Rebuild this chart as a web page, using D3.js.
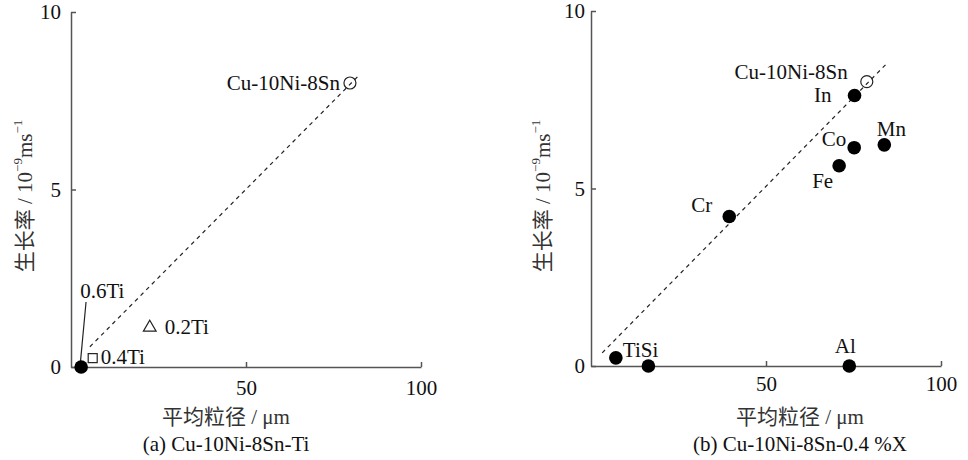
<!DOCTYPE html>
<html><head><meta charset="utf-8">
<script src="https://cdn.jsdelivr.net/npm/d3@7"></script>
<style>
body{margin:0;background:#fff;}
svg text{font-family:"Liberation Serif","DejaVu Serif",serif;}
svg text.cjk{font-family:"Liberation Serif","Noto Sans CJK SC",serif;}
</style></head>
<body><svg id="chart" width="968" height="460"></svg>
<script>
// ---------- data ----------
const xTicks = [50, 100];
const yTicks = [0, 5, 10];
const xTitle = "平均粒径 / μm";
const yTitleMain = "生长率 / 10";

// Panel (a): Cu-10Ni-8Sn-Ti
const aNames  = ["Cu-10Ni-8Sn", "0.2Ti", "0.4Ti", "0.6Ti"];
const aShapes = ["openCircle", "triangle", "square", "filled"];
const aX      = [79.7, 22.5, 6.2, 2.9];
const aY      = [8.0, 1.14, 0.25, 0.0];
const aFitX   = [5.4, 82.1];
const aFitY   = [0.57, 8.2];
const aLeaderX = [4.3, 2.7];
const aLeaderY = [1.83, 0.14];

// Panel (b): Cu-10Ni-8Sn-0.4%X
const bNames  = ["Cu-10Ni-8Sn", "In", "Mn", "Co", "Fe", "Cr", "TiSi", "", "Al"];
const bShapes = ["openCircle", "filled", "filled", "filled", "filled", "filled", "filled", "filled", "filled"];
const bX      = [78.8, 75.3, 83.8, 75.2, 70.9, 39.5, 7.1, 16.4, 73.8];
const bY      = [8.01, 7.62, 6.23, 6.15, 5.64, 4.21, 0.23, 0.0, 0.0];
const bFitX   = [3.2, 84.8];
const bFitY   = [0.37, 8.55];

const captions = ["(a) Cu-10Ni-8Sn-Ti", "(b) Cu-10Ni-8Sn-0.4 %X"];

// ---------- layout ----------
const FS = 21;
const panels = [
  { names:aNames, shapes:aShapes, xs:aX, ys:aY, fitX:aFitX, fitY:aFitY, leader:true,
    xr:[71,421], yr:[367,12], yPad:10, xPad:13, yTitleX:25, titleCx:226, caption:captions[0],
    labels:{ "Cu-10Ni-8Sn":[-10,7,"end"], "0.2Ti":[15,7,"start"], "0.4Ti":[8,6,"start"], "0.6Ti":[-1,-69,"start"] } },
  { names:bNames, shapes:bShapes, xs:bX, ys:bY, fitX:bFitX, fitY:bFitY, leader:false,
    xr:[591,941], yr:[366,11], yPad:6, xPad:10, yTitleX:543, titleCx:800, caption:captions[1],
    labels:{ "Cu-10Ni-8Sn":[-19,-3,"end"], "In":[-23,7,"end"], "Mn":[7,-9,"middle"], "Co":[-8,-2,"end"],
             "Fe":[-6,22,"end"], "Cr":[-17,-5,"end"], "TiSi":[7,-1,"start"], "Al":[-4,-13,"middle"] } }
];

const svg = d3.select("#chart");
const axisColor = "#555";
const textColor = "#111";

panels.forEach(p => {
  const x = d3.scaleLinear().domain([0,100]).range(p.xr);
  const y = d3.scaleLinear().domain([0,10]).range(p.yr);
  const g = svg.append("g");

  const xa = g.append("g").attr("transform", `translate(0,${p.yr[0]})`)
    .call(d3.axisBottom(x).tickValues(xTicks).tickSizeInner(-5).tickSizeOuter(0).tickPadding(p.xPad));
  const ya = g.append("g").attr("transform", `translate(${p.xr[0]},0)`)
    .call(d3.axisLeft(y).tickValues(yTicks).tickSizeInner(-5).tickSizeOuter(0).tickPadding(p.yPad));
  [xa, ya].forEach(a => {
    a.attr("font-family", null).attr("font-size", null);
    a.select(".domain").attr("stroke", axisColor).attr("stroke-width", 1.5);
    a.selectAll(".tick line").attr("stroke", axisColor).attr("stroke-width", 1.5);
    a.selectAll(".tick text").attr("fill", textColor).attr("font-size", FS);
  });

  g.append("line")
    .attr("x1", x(p.fitX[0])).attr("y1", y(p.fitY[0]))
    .attr("x2", x(p.fitX[1])).attr("y2", y(p.fitY[1]))
    .attr("stroke", "#222").attr("stroke-width", 1.2).attr("stroke-dasharray", "4,4");

  if (p.leader) {
    g.append("line")
      .attr("x1", x(aLeaderX[0])).attr("y1", y(aLeaderY[0]))
      .attr("x2", x(aLeaderX[1])).attr("y2", y(aLeaderY[1]))
      .attr("stroke", "#222").attr("stroke-width", 1.2);
  }

  p.xs.forEach((xv, i) => {
    const cx = x(xv), cy = y(p.ys[i]), s = p.shapes[i];
    if (s === "filled") {
      g.append("circle").attr("cx", cx).attr("cy", cy).attr("r", 6.8).attr("fill", "#000");
    } else if (s === "openCircle") {
      g.append("circle").attr("cx", cx).attr("cy", cy).attr("r", 6).attr("fill", "none")
        .attr("stroke", "#222").attr("stroke-width", 1.2);
    } else if (s === "square") {
      g.append("rect").attr("x", cx-4.5).attr("y", cy-4.5).attr("width", 9).attr("height", 9)
        .attr("fill", "#fff").attr("stroke", "#222").attr("stroke-width", 1.2);
    } else if (s === "triangle") {
      const sym = d3.symbol().type(d3.symbolTriangle).size(70);
      g.append("path").attr("d", sym()).attr("transform", `translate(${cx},${cy+1})`)
        .attr("fill", "#fff").attr("stroke", "#222").attr("stroke-width", 1.2);
    }
    const name = p.names[i];
    if (name && p.labels[name]) {
      const [dx, dy, anc] = p.labels[name];
      g.append("text").attr("x", cx+dx).attr("y", cy+dy).attr("text-anchor", anc)
        .attr("font-size", FS).attr("fill", textColor).text(name);
    }
  });

  g.append("text").attr("class", "cjk").attr("x", p.titleCx).attr("y", 424).attr("text-anchor", "middle")
    .attr("font-size", FS).attr("fill", "#333").text(xTitle);
  g.append("text").attr("x", p.titleCx).attr("y", 451).attr("text-anchor", "middle")
    .attr("font-size", FS).attr("fill", textColor).text(p.caption);
  const yt = g.append("text").attr("class", "cjk").attr("transform", `translate(${p.yTitleX},196) rotate(-90)`)
    .attr("text-anchor", "middle").attr("dominant-baseline", "central")
    .attr("font-size", FS).attr("fill", "#333");
  yt.append("tspan").text(yTitleMain);
  yt.append("tspan").attr("font-size", 13).attr("dy", -8).text("−9");
  yt.append("tspan").attr("dy", 8).text("ms");
  yt.append("tspan").attr("font-size", 13).attr("dy", -8).text("−1");
});
</script></body></html>
